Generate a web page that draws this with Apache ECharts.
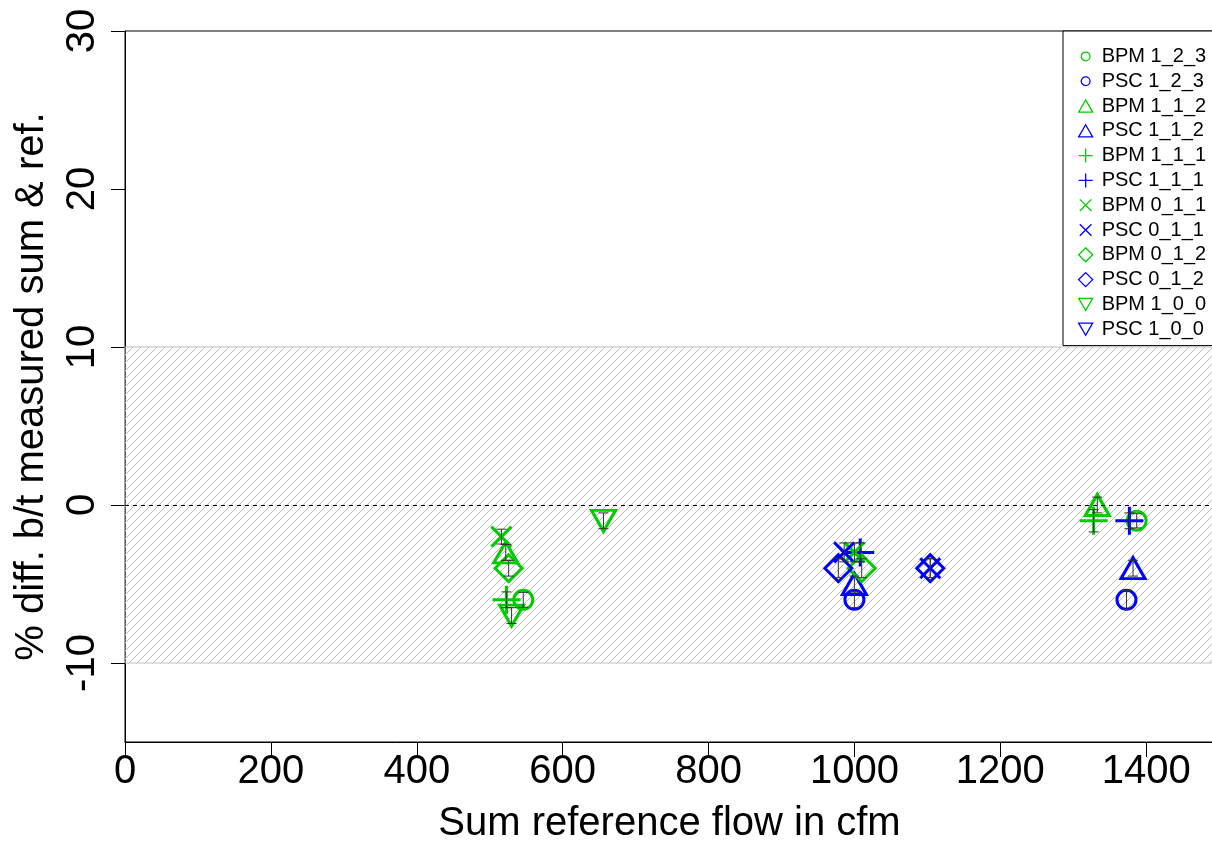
<!DOCTYPE html>
<html><head><meta charset="utf-8">
<script src="https://cdn.jsdelivr.net/npm/echarts@6/dist/echarts.min.js"></script>
<style>html,body{margin:0;padding:0;background:#fff}#c{width:1212px;height:843px}</style>
</head><body><div id="c"></div>
<script>
// ---- data: [x (cfm), % diff, error half-width] ----
const xTicks = [0, 200, 400, 600, 800, 1000, 1200, 1400];
const yTicks = [-10, 0, 10, 20, 30];
const names = ['BPM 1_2_3','PSC 1_2_3','BPM 1_1_2','PSC 1_1_2','BPM 1_1_1','PSC 1_1_1',
               'BPM 0_1_1','PSC 0_1_1','BPM 0_1_2','PSC 0_1_2','BPM 1_0_0','PSC 1_0_0'];
const bpm123 = [[546,-6,0.47],[1387,-1,0.45]];
const psc123 = [[1000,-6,0.5],[1373,-6,0.6]];
const bpm112 = [[522,-3,0.5],[1333,0,0.5]];
const psc112 = [[1000,-5,0.5],[1382,-4,0.5]];
const bpm111 = [[523,-6,0.5],[1328,-1,0.7]];
const psc111 = [[1008,-3,0.6],[1377,-1,0.5]];
const bpm011 = [[516,-2,0.47],[1000,-3,0.6]];
const psc011 = [[986,-3,0.6],[1104,-4,0.6]];
const bpm012 = [[526,-4,0.5],[1010,-4,0.6]];
const psc012 = [[978,-4,0.6],[1104,-4,0.6]];
const bpm100 = [[530,-7,0.5],[656,-1,0.5]];
const psc100 = [];
const band = [-10, 10];
const refLine = 0;
const xRange = [0, 1493];
const yRange = [-15, 30];

const values = [bpm123,psc123,bpm112,psc112,bpm111,psc111,bpm011,psc011,bpm012,psc012,bpm100,psc100];
const GREEN = '#00cd00', BLUE = '#0000ff';
const symCircle = 'circle', symTri = 'triangle', symDiam = 'diamond';
const symPlus = 'path://M5,0L5,10M0,5L10,5';
const symX = 'path://M0,0L10,10M10,0L0,10';
const symDown = 'path://M0,0L10,0L5,8.66Z';
const symbols = [symCircle,symCircle,symTri,symTri,symPlus,symPlus,symX,symX,symDiam,symDiam,symDown,symDown];
const sizes = [19,19,[24,21],[24,21],28,28,20,20,27,27,[24,21],[24,21]];
// legend icons: small circle padded inside a larger invisible box
const iconCircle = 'path://M-3,-3L-2.99,-3M13,13L12.99,13M0,5A5,5,0,1,1,10,5A5,5,0,1,1,0,5Z';
const iconX = 'path://M-1,-1L-0.99,-1M11,11L10.99,11M0,0L10,10M10,0L0,10';
const legendIcons = [iconCircle, iconCircle, 'path://M5,0L10,8.66L0,8.66Z','path://M5,0L10,8.66L0,8.66Z',
  symPlus, symPlus, iconX, iconX, 'path://M5,0L10,5L5,10L0,5Z','path://M5,0L10,5L5,10L0,5Z', symDown, symDown];

// hatch pattern
const pc = document.createElement('canvas');
pc.width = 8; pc.height = 8;
const g = pc.getContext('2d');
g.strokeStyle = '#bdbdbd'; g.lineWidth = 1;
g.beginPath();
g.moveTo(0, 8); g.lineTo(8, 0);
g.moveTo(-1, 1); g.lineTo(1, -1);
g.moveTo(7, 9); g.lineTo(9, 7);
g.stroke();

const FONT = '"Liberation Sans", Arial, Helvetica, sans-serif';
const series = names.map((n, i) => ({
  name: n,
  type: 'scatter',
  data: values[i].map(d => [d[0], d[1]]),
  symbol: symbols[i],
  symbolSize: sizes[i],
  itemStyle: { color: 'transparent', borderColor: i % 2 === 0 ? GREEN : BLUE, borderWidth: 3, opacity: 1 },
  emphasis: { disabled: true },
  z: 3
}));
series[0].markArea = {
  silent: true,
  itemStyle: { color: { image: pc, repeat: 'repeat' }, borderColor: '#bebebe', borderWidth: 1 },
  data: [[{ xAxis: xRange[0], yAxis: band[0] }, { xAxis: xRange[1], yAxis: band[1] }]]
};
series[0].markLine = {
  silent: true, symbol: 'none', label: { show: false },
  lineStyle: { color: '#000', width: 1, type: [4, 4] },
  data: [{ yAxis: refLine }]
};
const allPts = [].concat(...values);
series.push({
  type: 'custom',
  silent: true,
  z: 10,
  data: allPts,
  renderItem: function (params, api) {
    const x = api.value(0), y = api.value(1), e = api.value(2);
    const t = api.coord([x, y + e]), b = api.coord([x, y - e]);
    const hw = 5, st = { stroke: '#333', lineWidth: 1 };
    return { type: 'group', children: [
      { type: 'line', shape: { x1: t[0], y1: t[1], x2: b[0], y2: b[1] }, style: st },
      { type: 'line', shape: { x1: t[0] - hw, y1: t[1], x2: t[0] + hw, y2: t[1] }, style: st },
      { type: 'line', shape: { x1: b[0] - hw, y1: b[1], x2: b[0] + hw, y2: b[1] }, style: st }
    ]};
  }
});

const legendData = names.map((n, i) => ({
  name: n,
  icon: legendIcons[i],
  itemStyle: { color: 'transparent', borderColor: i % 2 === 0 ? GREEN : BLUE, borderWidth: 1.3 }
}));

const chart = echarts.init(document.getElementById('c'), null, { renderer: 'canvas' });
chart.setOption({
  animation: false,
  backgroundColor: '#fff',
  textStyle: { fontFamily: FONT },
  grid: { left: 125, top: 31, right: -2, bottom: 101, show: true, borderColor: '#000', borderWidth: 1, backgroundColor: '#fff', outerBoundsMode: 'none', containLabel: false },
  xAxis: {
    type: 'value', min: xRange[0], max: xRange[1],
    name: 'Sum reference flow in cfm', nameLocation: 'middle', nameGap: 62,
    nameTextStyle: { fontSize: 40, color: '#000', fontFamily: FONT },
    axisLine: { show: true, onZero: false, lineStyle: { color: '#000', width: 1 } },
    axisTick: { show: true, length: 15, customValues: xTicks, lineStyle: { color: '#000' } },
    axisLabel: { customValues: xTicks, fontSize: 40, color: '#000', margin: 10, fontFamily: FONT,
                 formatter: v => String(v) },
    splitLine: { show: false }
  },
  yAxis: {
    type: 'value', min: yRange[0], max: yRange[1],
    name: '% diff. b/t measured sum & ref.', nameLocation: 'middle', nameGap: 73,
    nameTextStyle: { fontSize: 40, color: '#000', fontFamily: FONT },
    axisLine: { show: true, onZero: false, lineStyle: { color: '#000', width: 1 } },
    axisTick: { show: true, length: 14, customValues: yTicks, lineStyle: { color: '#000' } },
    axisLabel: { customValues: yTicks, fontSize: 40, color: '#000', margin: 22, rotate: 90, fontFamily: FONT,
                 formatter: v => String(v) },
    splitLine: { show: false }
  },
  legend: {
    orient: 'vertical', left: 1063, top: 31,
    padding: [13, 30, 4, 15],
    itemWidth: 14, itemHeight: 14, itemGap: 0,
    symbolKeepAspect: true,
    borderColor: '#000', borderWidth: 1, borderRadius: 0,
    backgroundColor: '#fff',
    selectedMode: false,
    textStyle: { fontSize: 20, lineHeight: 24.8, color: '#000', fontFamily: FONT, padding: [0, 0, 0, 4] },
    data: legendData
  },
  series: series
});
</script></body></html>
